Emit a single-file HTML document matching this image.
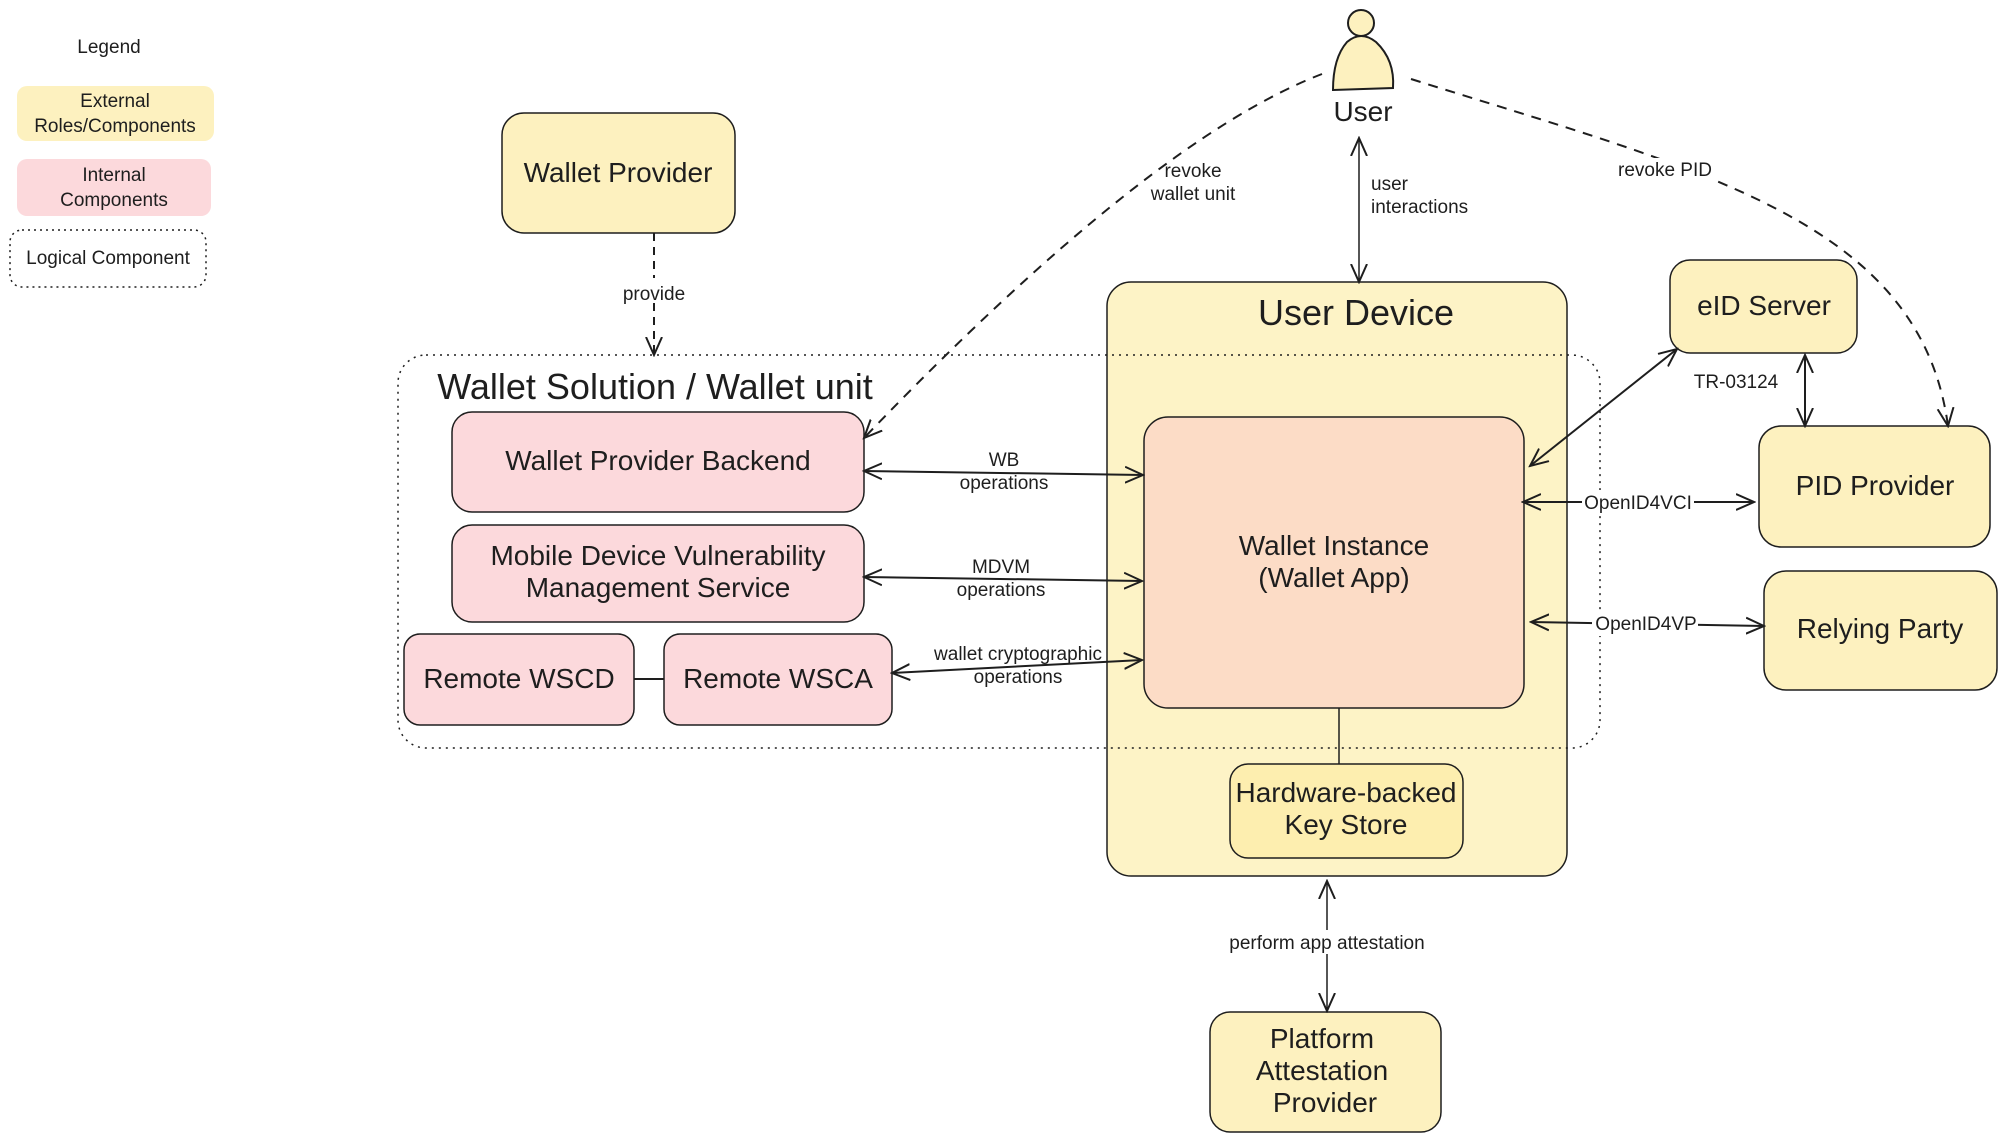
<!DOCTYPE html>
<html><head><meta charset="utf-8"><style>
html,body{margin:0;padding:0;background:#fff;}
svg{display:block;}
text{font-family:"Liberation Sans",sans-serif;fill:#1e1e1e;}
</style></head><body>
<svg width="2007" height="1142" viewBox="0 0 2007 1142" xmlns="http://www.w3.org/2000/svg">
<defs>
<marker id="a" viewBox="0 0 20 20" refX="18" refY="10" markerWidth="20" markerHeight="20" markerUnits="userSpaceOnUse" orient="auto-start-reverse">
<path d="M0,2 L18,10 L0,18" fill="none" stroke="#1e1e1e" stroke-width="2"/>
</marker>
</defs>
<!-- legend -->
<text x="109" y="53" font-size="19" text-anchor="middle">Legend</text>
<rect x="17" y="86" width="197" height="55" rx="10" fill="#fdf1bf"/>
<text x="115" y="107" font-size="19" text-anchor="middle" font-family="DejaVu Sans">External</text>
<text x="115" y="132" font-size="19" text-anchor="middle" font-family="DejaVu Sans">Roles/Components</text>
<rect x="17" y="159" width="194" height="57" rx="10" fill="#fcd9dc"/>
<text x="114" y="181" font-size="19" text-anchor="middle" font-family="DejaVu Sans">Internal</text>
<text x="114" y="206" font-size="19" text-anchor="middle" font-family="DejaVu Sans">Components</text>
<rect x="10" y="230" width="196" height="57" rx="12" fill="none" stroke="#1e1e1e" stroke-width="1.5" stroke-dasharray="2,4"/>
<text x="108" y="264" font-size="19" text-anchor="middle">Logical Component</text>

<!-- user device -->
<rect x="1107" y="282" width="460" height="594" rx="24" fill="#fdf3c6" stroke="#1e1e1e" stroke-width="1.5"/>
<text x="1356" y="325" font-size="36" text-anchor="middle">User Device</text>

<!-- wallet solution -->
<rect x="398" y="355" width="1202" height="393" rx="28" fill="none" stroke="#1e1e1e" stroke-width="1.5" stroke-dasharray="2,5"/>
<text x="655" y="399" font-size="36" text-anchor="middle">Wallet Solution / Wallet unit</text>

<!-- boxes -->
<g stroke="#1e1e1e" stroke-width="1.5">
<rect x="502" y="113" width="233" height="120" rx="22" fill="#fdf1bf"/>
<rect x="452" y="412" width="412" height="100" rx="20" fill="#fcd9dc"/>
<rect x="452" y="525" width="412" height="97" rx="20" fill="#fcd9dc"/>
<rect x="404" y="634" width="230" height="91" rx="16" fill="#fcd9dc"/>
<rect x="664" y="634" width="228" height="91" rx="16" fill="#fcd9dc"/>
<rect x="1144" y="417" width="380" height="291" rx="24" fill="#fcdcc6"/>
<rect x="1230" y="764" width="233" height="94" rx="18" fill="#fdeeaf"/>
<rect x="1210" y="1012" width="231" height="120" rx="20" fill="#fdf1bf"/>
<rect x="1670" y="260" width="187" height="93" rx="20" fill="#fdf1bf"/>
<rect x="1759" y="426" width="231" height="121" rx="22" fill="#fdf1bf"/>
<rect x="1764" y="571" width="233" height="119" rx="22" fill="#fdf1bf"/>
</g>
<g font-size="28" text-anchor="middle">
<text x="618" y="182">Wallet Provider</text>
<text x="658" y="470">Wallet Provider Backend</text>
<text x="658" y="565">Mobile Device Vulnerability</text>
<text x="658" y="597">Management Service</text>
<text x="519" y="688">Remote WSCD</text>
<text x="778" y="688">Remote WSCA</text>
<text x="1334" y="555">Wallet Instance</text>
<text x="1334" y="587">(Wallet App)</text>
<text x="1346" y="802">Hardware-backed</text>
<text x="1346" y="834">Key Store</text>
<text x="1322" y="1048">Platform</text>
<text x="1322" y="1080">Attestation</text>
<text x="1325" y="1112">Provider</text>
<text x="1764" y="315">eID Server</text>
<text x="1875" y="495">PID Provider</text>
<text x="1880" y="638">Relying Party</text>
</g>

<!-- user icon -->
<circle cx="1361" cy="23" r="13" fill="#fdf1bf" stroke="#1e1e1e" stroke-width="2"/>
<path d="M1333,90 L1393,88 Q1395,60 1376,42 Q1361,30 1347,42 Q1333,58 1333,90 Z" fill="#fdf1bf" stroke="#1e1e1e" stroke-width="2"/>
<text x="1363" y="121" font-size="28" text-anchor="middle">User</text>

<!-- connectors -->
<g stroke="#1e1e1e" stroke-width="2" fill="none">
<line x1="654" y1="233" x2="654" y2="355" stroke-dasharray="8,6" marker-end="url(#a)"/>
<line x1="1359" y1="138" x2="1359" y2="282" stroke-width="1.5" marker-start="url(#a)" marker-end="url(#a)"/>
<line x1="864" y1="471" x2="1143" y2="475" marker-start="url(#a)" marker-end="url(#a)"/>
<line x1="864" y1="577" x2="1142" y2="581" marker-start="url(#a)" marker-end="url(#a)"/>
<line x1="892" y1="673" x2="1142" y2="660" marker-start="url(#a)" marker-end="url(#a)"/>
<line x1="1530" y1="466" x2="1677" y2="349" marker-start="url(#a)" marker-end="url(#a)"/>
<line x1="1805" y1="355" x2="1805" y2="426" marker-start="url(#a)" marker-end="url(#a)"/>
<line x1="1523" y1="502" x2="1754" y2="502" marker-start="url(#a)" marker-end="url(#a)"/>
<line x1="1531" y1="622" x2="1764" y2="626" marker-start="url(#a)" marker-end="url(#a)"/>
<line x1="1339" y1="708" x2="1339" y2="764" stroke-width="1.5"/>
<line x1="634" y1="679" x2="664" y2="679"/>
<line x1="1327" y1="881" x2="1327" y2="1011" stroke-width="1.5" marker-start="url(#a)" marker-end="url(#a)"/>
<path d="M1322,74 Q1150,140 864,438" stroke-dasharray="10,8" marker-end="url(#a)"/>
<path d="M1411,79 C1700,170 1920,220 1948,426" stroke-dasharray="10,8" marker-end="url(#a)"/>
</g>
<!-- label backgrounds -->
<g fill="#fff">
<rect x="620" y="278" width="70" height="24"/>
<rect x="1218" y="930" width="220" height="24"/>
<rect x="1582" y="490" width="112" height="24"/>
<rect x="1592" y="612" width="106" height="24"/>
<rect x="1612" y="158" width="106" height="24"/>
</g>
<g font-size="19" text-anchor="middle">
<text x="654" y="300">provide</text>
<text x="1004" y="466">WB</text>
<text x="1004" y="489">operations</text>
<text x="1001" y="573">MDVM</text>
<text x="1001" y="596">operations</text>
<text x="1018" y="660">wallet cryptographic</text>
<text x="1018" y="683">operations</text>
<text x="1193" y="177">revoke</text>
<text x="1193" y="200">wallet unit</text>
<text x="1665" y="176">revoke PID</text>
<text x="1736" y="388">TR-03124</text>
<text x="1638" y="509">OpenID4VCI</text>
<text x="1646" y="630">OpenID4VP</text>
<text x="1327" y="949">perform app attestation</text>
<text x="1371" y="190" text-anchor="start">user</text>
<text x="1371" y="213" text-anchor="start">interactions</text>
</g>
</svg>
</body></html>
